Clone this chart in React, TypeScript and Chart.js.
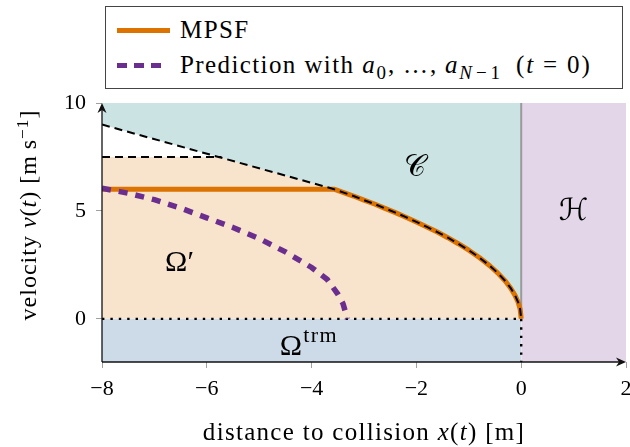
import React, { useEffect, useRef } from 'react';
import { Chart, registerables } from 'chart.js';

Chart.register(...registerables);

// ---- axis ticks ----
const X_TICKS = [-8, -6, -4, -2, 0, 2];
const Y_TICKS = [0, 5, 10];
const X_MIN = -8;
const X_MAX = 2;
const Y_MIN = -2;
const Y_MAX = 10;

// ---- boundary of the collision set C (dashed black) ----
const boundaryX = [-8, -3.6, -3.4, -3.2, -3.0, -2.8, -2.6, -2.4, -2.2, -2.0, -1.8, -1.6, -1.4, -1.2, -1.0, -0.8, -0.6, -0.45, -0.3, -0.2, -0.12, -0.06, -0.02, 0];
const boundaryV = [9.0, 6.03, 5.86, 5.69, 5.5, 5.32, 5.12, 4.92, 4.71, 4.49, 4.26, 4.02, 3.76, 3.48, 3.18, 2.84, 2.46, 2.13, 1.74, 1.42, 1.1, 0.78, 0.45, 0];

// ---- speed limit (dashed black) ----
const limitX = [-8, -5.72];
const limitV = [7.5, 7.5];

// ---- upper edge of safe set Omega' ----
const safeX = [-8, -5.72, -3.6, -3.4, -3.2, -3.0, -2.8, -2.6, -2.4, -2.2, -2.0, -1.8, -1.6, -1.4, -1.2, -1.0, -0.8, -0.6, -0.45, -0.3, -0.2, -0.12, -0.06, -0.02, 0];
const safeV = [7.5, 7.5, 6.03, 5.86, 5.69, 5.5, 5.32, 5.12, 4.92, 4.71, 4.49, 4.26, 4.02, 3.76, 3.48, 3.18, 2.84, 2.46, 2.13, 1.74, 1.42, 1.1, 0.78, 0.45, 0];

// ---- MPSF trajectory (orange) ----
const mpsfX = [-8, -3.56, -3.4, -3.2, -3.0, -2.8, -2.6, -2.4, -2.2, -2.0, -1.8, -1.6, -1.4, -1.2, -1.0, -0.8, -0.6, -0.45, -0.3, -0.2, -0.12, -0.06, -0.02, 0];
const mpsfV = [6.0, 6.0, 5.86, 5.69, 5.5, 5.32, 5.12, 4.92, 4.71, 4.49, 4.26, 4.02, 3.76, 3.48, 3.18, 2.84, 2.46, 2.13, 1.74, 1.42, 1.1, 0.78, 0.45, 0];

// ---- prediction with a_0..a_{N-1} (purple dashed) ----
const predX = [-8, -7.5, -7.0, -6.5, -6.0, -5.5, -5.0, -4.5, -4.0, -3.7, -3.5, -3.4, -3.34, -3.32];
const predV = [6.05, 5.82, 5.52, 5.13, 4.68, 4.23, 3.72, 3.1, 2.38, 1.82, 1.15, 0.7, 0.2, 0];

// ---- terminal set edges (dotted) ----
const zeroX = [-8, 0];
const zeroV = [0, 0];
const termEdgeX = [0, 0];
const termEdgeV = [0, -2];

// ---- wall at x = 0 (grey) ----
const wallX = [0, 0];
const wallV = [0, 10];

// ---- region H (x > 0) and terminal region (v < 0) ----
const hX = [0, 2];
const hV = [10, 10];
const termX = [-8, 0];
const termV = [0, 0];

// ---- region labels (data coordinates) ----
const labelC = { x: -2.03, y: 7.0 };
const labelH = { x: 1.0, y: 4.95 };
const labelOmega = { x: -6.52, y: 2.6 };
const labelTerm = { x: -4.18, y: -1.29 };

const ORANGE = '#dc7300';
const PURPLE = '#6a2e8e';
const SERIF = '"Liberation Serif", "DejaVu Serif", serif';

const pts = (xs: number[], ys: number[]) => xs.map((x, i) => ({ x, y: ys[i] }));
const fmt = (v: number) => (v < 0 ? '\u2212' + Math.abs(v) : String(v));

const decorPlugin = {
  id: 'decor',
  afterDatasetsDraw(chart: any) {
    const { ctx, chartArea } = chart;
    const { left, right, top, bottom } = chartArea;
    const xs = chart.scales.x;
    const ys = chart.scales.y;
    ctx.save();
    // axes lines
    ctx.strokeStyle = '#111';
    ctx.lineWidth = 1.3;
    ctx.beginPath();
    ctx.moveTo(left, bottom);
    ctx.lineTo(right - 3, bottom);
    ctx.stroke();
    ctx.beginPath();
    ctx.moveTo(left, bottom);
    ctx.lineTo(left, top + 3);
    ctx.stroke();
    ctx.fillStyle = '#111';
    // x arrow
    ctx.beginPath();
    ctx.moveTo(right, bottom);
    ctx.lineTo(right - 10, bottom - 4.5);
    ctx.lineTo(right - 7, bottom);
    ctx.lineTo(right - 10, bottom + 4.5);
    ctx.closePath();
    ctx.fill();
    // y arrow
    ctx.beginPath();
    ctx.moveTo(left, top);
    ctx.lineTo(left - 4.5, top + 10);
    ctx.lineTo(left, top + 7);
    ctx.lineTo(left + 4.5, top + 10);
    ctx.closePath();
    ctx.fill();

    // region labels
    ctx.fillStyle = '#000';
    ctx.textAlign = 'center';
    ctx.textBaseline = 'middle';
    ctx.font = `30px "DejaVu Serif", "DejaVu Sans", serif`;
    ctx.fillText('\u{1D49E}', xs.getPixelForValue(labelC.x), ys.getPixelForValue(labelC.y));
    ctx.fillText('\u210B', xs.getPixelForValue(labelH.x), ys.getPixelForValue(labelH.y));
    ctx.font = `30px ${SERIF}`;
    ctx.fillText('\u03A9\u2032', xs.getPixelForValue(labelOmega.x), ys.getPixelForValue(labelOmega.y));
    const tx = xs.getPixelForValue(labelTerm.x);
    const ty = ys.getPixelForValue(labelTerm.y);
    ctx.textAlign = 'right';
    ctx.font = `30px ${SERIF}`;
    ctx.fillText('\u03A9', tx, ty);
    ctx.textAlign = 'left';
    ctx.font = `22px ${SERIF}`;
    const letters = ['t', 'r', 'm'];
    let cx = tx + 1;
    for (const ch of letters) {
      ctx.fillText(ch, cx, ty - 10);
      cx += ctx.measureText(ch).width + 1.5;
    }
    ctx.restore();
  },
};

export default function App() {
  const ref = useRef<HTMLCanvasElement | null>(null);

  useEffect(() => {
    if (!ref.current) return;
    const line = (data: any, extra: any) => ({
      data,
      pointRadius: 0,
      borderWidth: 0,
      fill: false,
      tension: 0,
      ...extra,
    });
    const chart = new Chart(ref.current, {
      type: 'line',
      data: {
        datasets: [
          line(pts(boundaryX, boundaryV), {
            borderColor: '#000',
            borderWidth: 2,
            borderDash: [8, 5],
            fill: 'end',
            backgroundColor: '#cce3e3',
          }),
          line(pts(limitX, limitV), { borderColor: '#000', borderWidth: 2, borderDash: [8, 5] }),
          line(pts(predX, predV), { borderColor: PURPLE, borderWidth: 5.5, borderDash: [9, 8] }),
          line(pts(mpsfX, mpsfV), { borderColor: ORANGE, borderWidth: 5, borderJoinStyle: 'round' }),
          line(pts(zeroX, zeroV), { borderColor: '#000', borderWidth: 2.4, borderDash: [2.4, 6] }),
          line(pts(termEdgeX, termEdgeV), { borderColor: '#000', borderWidth: 2.4, borderDash: [2.4, 6] }),
          line(pts(wallX, wallV), { borderColor: '#9a9a9a', borderWidth: 2 }),
          line(pts(safeX, safeV), { borderColor: 'rgba(0,0,0,0)', fill: 'origin', backgroundColor: '#f8e3cd' }),
          line(pts(termX, termV), { borderColor: 'rgba(0,0,0,0)', fill: { value: -2 }, backgroundColor: '#cddae8' }),
          line(pts(hX, hV), { borderColor: 'rgba(0,0,0,0)', fill: { value: -2 }, backgroundColor: '#e2d6e8' }),
        ],
      },
      options: {
        animation: false,
        responsive: false,
        maintainAspectRatio: false,
        events: [],
        layout: { padding: { top: 103, right: 4, left: 0, bottom: 0 } },
        plugins: {
          legend: { display: false },
          tooltip: { enabled: false },
          filler: { drawTime: 'beforeDatasetsDraw', propagate: false },
        },
        scales: {
          x: {
            type: 'linear',
            min: X_MIN,
            max: X_MAX,
            afterBuildTicks: (s: any) => {
              s.ticks = X_TICKS.map((v) => ({ value: v }));
            },
            afterFit: (s: any) => {
              s.height = 85;
              s.paddingLeft = 0;
              s.paddingRight = 0;
            },
            ticks: {
              callback: (v: any) => fmt(Number(v)),
              color: '#000',
              font: { family: SERIF, size: 22 },
              padding: 8,
              maxRotation: 0,
            },
            grid: { drawOnChartArea: false, drawTicks: true, tickLength: 6, color: '#a0a0a0' },
            border: { display: false },
          },
          y: {
            type: 'linear',
            min: Y_MIN,
            max: Y_MAX,
            afterBuildTicks: (s: any) => {
              s.ticks = Y_TICKS.map((v) => ({ value: v }));
            },
            afterFit: (s: any) => {
              s.width = 102;
              s.paddingTop = 0;
              s.paddingBottom = 0;
            },
            ticks: {
              callback: (v: any) => fmt(Number(v)),
              color: '#000',
              font: { family: SERIF, size: 22 },
              padding: 10,
            },
            grid: { drawOnChartArea: false, drawTicks: true, tickLength: 6, color: '#a0a0a0' },
            border: { display: false },
          },
        },
      },
      plugins: [decorPlugin],
    } as any);
    return () => chart.destroy();
  }, []);

  const sub: React.CSSProperties = { fontSize: '0.76em', position: 'relative', top: '0.3em' };
  const sup: React.CSSProperties = { fontSize: '0.72em', position: 'relative', top: '-0.45em' };

  return (
    <div style={{ position: 'absolute', left: 0, top: 0, width: 630, height: 447, background: '#fff', fontFamily: SERIF, color: '#000' }}>
      <canvas ref={ref} width={630} height={447} style={{ display: 'block', width: 630, height: 447 }} />
      {/* legend */}
      <div
        style={{
          position: 'absolute',
          left: 105,
          top: 6,
          width: 518,
          height: 83,
          border: '1.5px solid #444',
          boxSizing: 'border-box',
          background: '#fff',
          fontSize: 25,
          letterSpacing: '1.4px',
        }}
      >
        <div style={{ position: 'absolute', left: 11, top: 20.5, width: 53, height: 5, background: ORANGE }} />
        <div style={{ position: 'absolute', left: 74, top: 8, height: 30, lineHeight: '30px', whiteSpace: 'nowrap' }}>MPSF</div>
        <div
          style={{
            position: 'absolute',
            left: 11,
            top: 56,
            width: 48,
            height: 5,
            background: `repeating-linear-gradient(to right, ${PURPLE} 0px, ${PURPLE} 10px, transparent 10px, transparent 17px)`,
          }}
        />
        <div style={{ position: 'absolute', left: 74, top: 43, height: 30, lineHeight: '30px', whiteSpace: 'nowrap' }}>
          Prediction with{' '}
          <span style={{ letterSpacing: '1.9px' }}>
            <i>a</i>
            <span style={sub}>0</span>,&thinsp;…,&thinsp;<i>a</i>
            <span style={sub}>
              <i>N</i>
              <span style={{ margin: '0 2px' }}>−</span>1
            </span>
            <span style={{ marginLeft: 14 }}>
              (<i>t</i>
              <span style={{ margin: '0 8px' }}>=</span>0)
            </span>
          </span>
        </div>
      </div>
      {/* x axis title */}
      <div
        style={{
          position: 'absolute',
          left: 114,
          width: 500,
          top: 417,
          height: 30,
          lineHeight: '30px',
          textAlign: 'center',
          fontSize: 25,
          letterSpacing: '1.3px',
          whiteSpace: 'nowrap',
        }}
      >
        distance to collision <i>x</i>(<i>t</i>) [m]
      </div>
      {/* y axis title */}
      <div
        style={{
          position: 'absolute',
          left: 28 - 150,
          top: 215 - 15,
          width: 300,
          height: 30,
          lineHeight: '30px',
          textAlign: 'center',
          fontSize: 24,
          letterSpacing: '1px',
          whiteSpace: 'nowrap',
          transform: 'rotate(-90deg)',
          transformOrigin: '50% 50%',
        }}
      >
        velocity <i>v</i>(<i>t</i>) [m&thinsp;s<span style={sup}>−1</span>]
      </div>
    </div>
  );
}
